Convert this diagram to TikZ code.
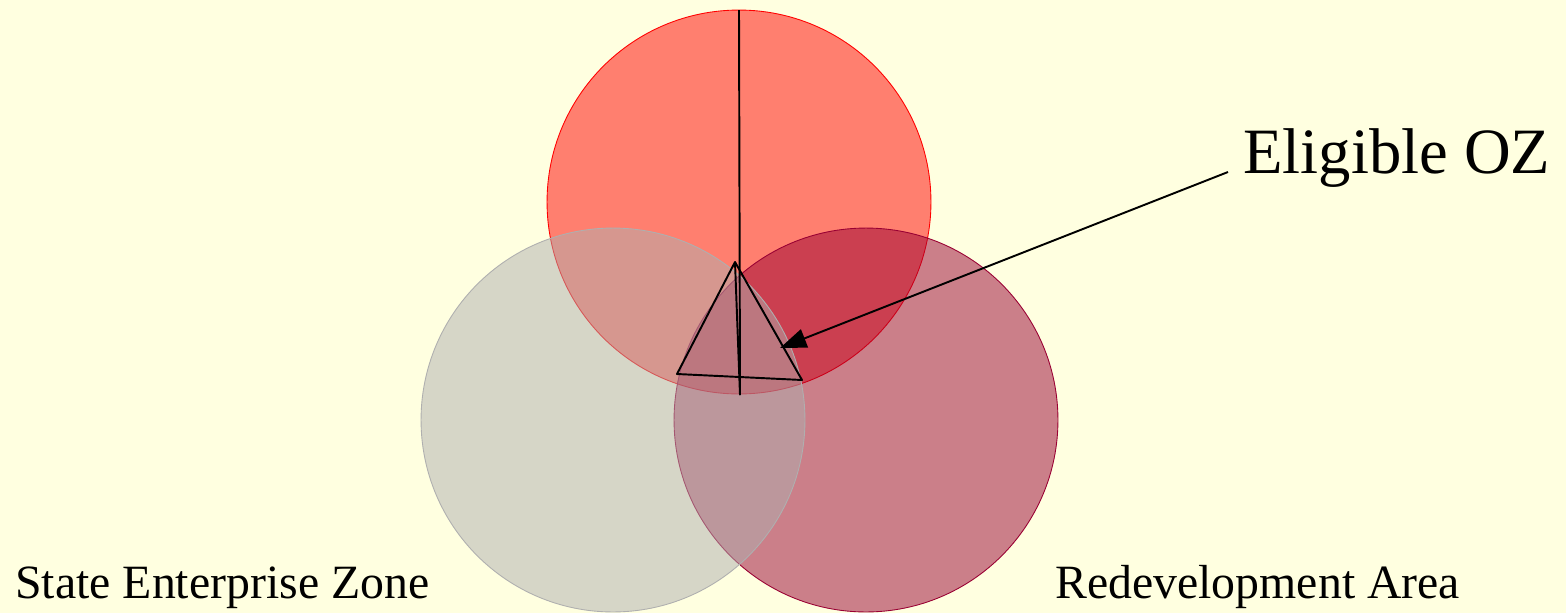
\documentclass[tikz,border=0pt]{standalone}
\usepackage{fontspec}
\setmainfont{Liberation Serif}
\usepackage{tikz}
\usetikzlibrary{arrows.meta, positioning, calc}
\usepackage{xcolor}

\definecolor{paper}{HTML}{FFFFE0}
\definecolor{zonegray}{HTML}{AFAFAF}
\definecolor{redevred}{HTML}{990033}

\begin{document}
\begin{tikzpicture}[
  x=0.02cm, y=-0.02cm,
  ozcirc/.style={draw=red, line width=0.5pt, fill=red, fill opacity=0.5},
  sezcirc/.style={draw=zonegray, line width=0.5pt, fill=zonegray, fill opacity=0.5},
  redcirc/.style={draw=redevred, line width=0.5pt, fill=redevred, fill opacity=0.5},
  label/.style={inner sep=0pt, anchor=base west, font=\fontsize{27.2}{32}\selectfont},
  biglabel/.style={inner sep=0pt, anchor=base west, font=\fontsize{36.8}{42}\selectfont},
  edge/.style={line width=1.1pt, line join=round},
  arr/.style={-{Triangle[length=15pt, width=11pt]}, line width=1.1pt}
]
\useasboundingbox[fill=paper] (0,0) rectangle (1566,613);
% the three circles
\draw[ozcirc] (739,202) circle[radius=3.84cm];
\draw[redcirc] (866,420) circle[radius=3.84cm];
\draw[sezcirc] (613,420) circle[radius=3.84cm];
% pyramid
\coordinate (top) at (739,10);
\coordinate (apex) at (735,262);
\coordinate (left) at (677,374);
\coordinate (right) at (802,380);
\coordinate (front) at (740,395);
\draw[edge] (top)--(front);
\draw[edge] (apex)--(left)--(right)--cycle;
\draw[edge] (apex)--(front);
% labels
\node[biglabel] (oz) at (1243,173) {Eligible OZ};
\node[label] (sez) at (15,598) {State Enterprise Zone};
\node[label] (rda) at (1055,598) {Redevelopment Area};
\coordinate (tail) at (1228,172);
\coordinate (tip) at (780,348);
\draw[arr] (tail)--(tip);
\end{tikzpicture}
\end{document}
